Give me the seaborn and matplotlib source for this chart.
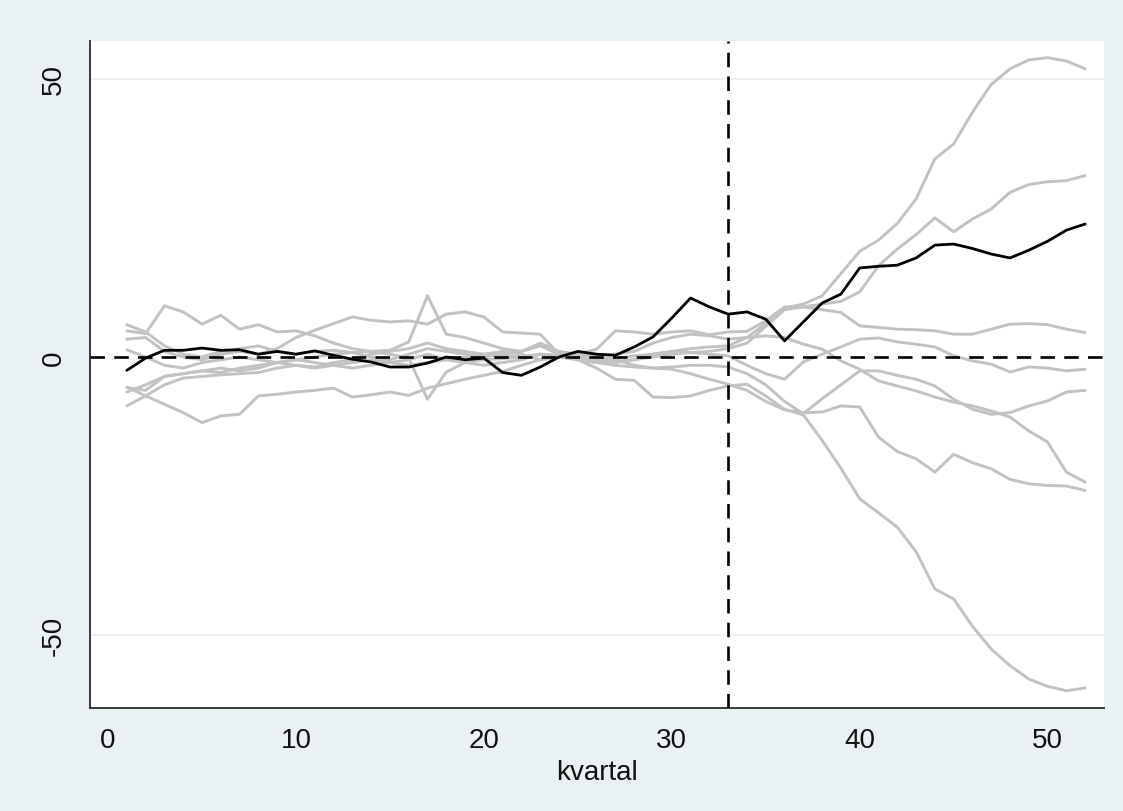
import numpy as np
import pandas as pd
import matplotlib
matplotlib.use("Agg")
import matplotlib.pyplot as plt
import seaborn as sns

# ---------------- data ----------------
kvartal = list(range(1, 53))
treatment_quarter = 33

treated = [-2.4, -0.2, 1.2, 1.2, 1.6, 1.2, 1.3, 0.5, 1.0, 0.5, 1.1, 0.3, -0.4, -0.9, -1.8, -1.8,
           -1.1, 0.0, -0.5, -0.2, -2.8, -3.3, -1.8, 0.0, 1.0, 0.5, 0.3, 1.8, 3.6, 7.0, 10.6, 9.0,
           7.7, 8.1, 6.8, 2.9, 6.3, 9.7, 11.3, 16.0, 16.3, 16.5, 17.8, 20.1, 20.3, 19.5, 18.5, 17.8,
           19.2, 20.8, 22.8, 23.9]

donor_a = [-8.8, -7.0, -5.0, -3.8, -3.5, -3.2, -3.0, -2.8, -2.0, -1.5, -1.8, -1.0, -0.5, 0.5, 1.0, 1.5,
           2.5, 1.5, 1.0, 0.5, 0.3, 0.0, 0.5, 0.2, -0.3, -0.5, -0.3, 0.2, 0.5, 1.0, 1.5, 1.8,
           2.0, 3.5, 6.0, 8.8, 9.5, 11.0, 15.0, 19.0, 21.0, 24.0, 28.4, 35.6, 38.3, 44.0, 49.0, 51.8,
           53.4, 53.8, 53.2, 51.8]
donor_b = [3.2, 3.5, 1.0, 0.0, -0.5, 0.5, 1.0, 0.5, 1.5, 3.5, 4.8, 6.0, 7.2, 6.6, 6.3, 6.5,
           5.9, 7.7, 8.1, 7.2, 4.5, 4.3, 4.1, 0.5, -0.5, -1.0, -0.8, -0.5, 0.0, 0.5, 0.8, 1.0,
           1.5, 2.5, 5.5, 8.5, 9.0, 9.5, 10.0, 11.7, 16.4, 19.4, 22.0, 25.0, 22.5, 24.8, 26.6, 29.6,
           31.0, 31.5, 31.7, 32.6]
donor_c = [4.7, 4.2, 9.2, 8.1, 5.9, 7.5, 5.0, 5.8, 4.5, 4.7, 3.8, 2.5, 1.5, 1.0, 1.2, 2.7,
           11.0, 4.1, 3.5, 2.5, 1.5, 1.0, 2.5, 1.0, 0.5, 1.4, 4.7, 4.5, 4.1, 4.5, 4.7, 4.0,
           4.5, 4.6, 6.5, 9.0, 9.0, 8.5, 8.0, 5.6, 5.3, 5.0, 4.9, 4.7, 4.1, 4.1, 5.0, 5.9,
           6.0, 5.8, 5.0, 4.4]
donor_d = [1.3, 0.0, -1.5, -2.0, -1.0, -0.5, 0.0, -0.5, -1.0, -0.5, 0.0, 0.5, 0.8, 1.0, 0.5, -0.2,
           -7.6, -2.7, -1.0, -0.5, -0.3, 0.0, 0.5, 0.0, -0.3, -0.5, -1.0, -0.5, 0.5, 1.0, 0.8, 0.5,
           0.2, -1.5, -3.0, -4.0, -0.9, 0.5, 1.8, 3.2, 3.4, 2.7, 2.3, 1.8, 0.2, -0.7, -1.3, -2.7,
           -1.8, -2.0, -2.5, -2.2]
donor_e = [-5.5, -6.0, -3.5, -3.0, -2.5, -2.8, -2.0, -1.5, -1.0, -1.5, -2.0, -1.5, -1.0, -0.5, -1.0, -1.5,
           -1.0, -0.5, 0.0, 0.5, 1.0, 0.5, -0.5, 0.0, 0.5, 0.0, -0.5, -1.5, -2.0, -1.8, -1.5, -1.5,
           -1.8, -3.0, -5.0, -8.0, -10.2, -7.5, -5.0, -2.5, -2.5, -3.3, -4.0, -5.2, -7.6, -9.4, -10.3, -10.0,
           -8.8, -7.9, -6.3, -6.0]
donor_f = [5.8, 4.5, 2.0, 0.5, 0.0, 1.0, 1.5, 2.0, 1.0, 0.5, 1.0, 1.2, 0.8, 0.0, -0.5, 0.5,
           1.5, 1.0, 0.5, 0.0, 0.5, 1.0, 2.0, 0.5, 0.0, 0.3, 0.5, 1.0, 2.5, 3.5, 4.1, 3.8,
           3.2, 3.5, 3.8, 3.5, 2.3, 1.4, -0.7, -2.2, -4.3, -5.2, -6.1, -7.2, -8.1, -8.8, -9.7, -10.8,
           -13.3, -15.3, -20.7, -22.5]
donor_g = [-5.4, -7.0, -8.5, -10.0, -11.8, -10.6, -10.3, -7.0, -6.7, -6.3, -6.0, -5.6, -7.2, -6.8, -6.3, -6.9,
           -5.6, -4.8, -4.0, -3.3, -2.6, -1.5, -0.5, 0.0, -0.5, -1.0, -1.5, -1.8, -2.0, -2.2, -3.0, -4.0,
           -4.9, -6.0, -8.0, -9.5, -10.0, -9.9, -8.8, -9.0, -14.4, -17.0, -18.3, -20.7, -17.5, -19.0, -20.1, -22.0,
           -22.8, -23.1, -23.2, -24.0]
donor_h = [-6.3, -5.0, -3.5, -3.0, -2.5, -2.0, -2.5, -2.0, -1.0, -0.5, -1.0, -1.5, -2.0, -1.5, -1.0, -0.5,
           0.5, -0.5, -1.0, -1.5, -1.0, -0.5, 0.5, 0.3, -0.5, -2.0, -4.0, -4.2, -7.2, -7.3, -7.0, -6.0,
           -5.2, -4.9, -7.0, -9.4, -10.4, -15.0, -20.0, -25.5, -28.0, -30.6, -35.0, -41.7, -43.5, -48.4, -52.5, -55.5,
           -57.9, -59.2, -60.0, -59.5]

donors = {"a": donor_a, "b": donor_b, "c": donor_c, "d": donor_d,
          "e": donor_e, "f": donor_f, "g": donor_g, "h": donor_h}

x_ticks = [0, 10, 20, 30, 40, 50]
y_ticks = [-50, 0, 50]
x_label = "kvartal"

# ---------------- tidy frames ----------------
donor_df = pd.concat(
    [pd.DataFrame({"kvartal": kvartal, "value": v, "unit": k}) for k, v in donors.items()],
    ignore_index=True)
treated_df = pd.DataFrame({"kvartal": kvartal, "value": treated, "unit": "treated"})

# ---------------- style ----------------
sns.set_theme(style="white")
plt.rcParams["font.family"] = ["Liberation Sans", "DejaVu Sans"]

bg = "#eaf1f3"
fig = plt.figure(figsize=(11.23, 8.12), dpi=100, facecolor=bg)
ax = fig.add_axes([90 / 1123, 1 - 709 / 812, (1104 - 90) / 1123, (709 - 42) / 812])
ax.set_facecolor("white")

sns.lineplot(data=donor_df, x="kvartal", y="value", units="unit", estimator=None,
             color="#c2c2c2", linewidth=2.1, ax=ax, legend=False, zorder=2)
sns.lineplot(data=treated_df, x="kvartal", y="value", estimator=None,
             color="black", linewidth=2.0, ax=ax, legend=False, zorder=4)

for yv in (-50, 50):
    ax.axhline(yv, color="#e4eef0", linewidth=1.2, zorder=1)
ax.axhline(0, color="black", linewidth=1.9, linestyle=(0, (5.5, 3.5)), zorder=5)
ax.axvline(treatment_quarter, color="black", linewidth=1.9, linestyle=(0, (5.5, 3.5)), zorder=5)

ax.set_xlim(-0.96, 53.0)
ax.set_ylim(-63.1, 56.8)
ax.set_xticks(x_ticks)
ax.set_yticks(y_ticks)
ax.set_xticklabels([str(t) for t in x_ticks], fontsize=20)
ax.set_yticklabels([str(t) for t in y_ticks], fontsize=20, rotation=90, va="center")
ax.set_xlabel(x_label, fontsize=20, labelpad=4, color="#111111")
ax.set_ylabel("")

for side in ("top", "right"):
    ax.spines[side].set_visible(False)
for side in ("left", "bottom"):
    ax.spines[side].set_color("#3a3a3a")
    ax.spines[side].set_linewidth(1.4)
ax.tick_params(axis="both", which="major", length=8, width=1.4, color="#3a3a3a",
               labelcolor="#111111", direction="out")
ax.tick_params(axis="x", pad=6)
ax.tick_params(axis="y", pad=9)
ax.grid(False)

fig.savefig("out.png", dpi=100, facecolor=bg)
